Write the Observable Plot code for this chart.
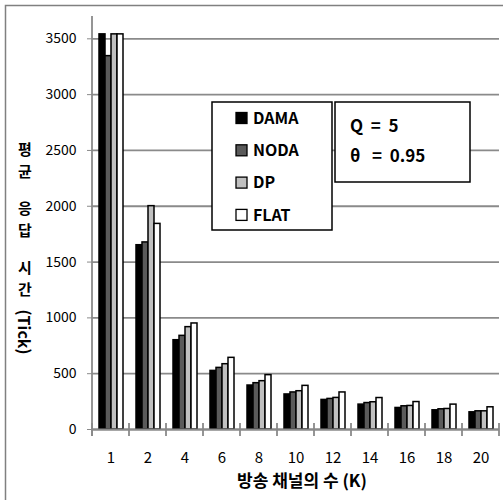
<!DOCTYPE html>
<html>
<head>
<meta charset="utf-8">
<script src="https://cdn.jsdelivr.net/npm/d3@7"></script>
<script src="https://cdn.jsdelivr.net/npm/@observablehq/plot@0.6"></script>
<style>
  html, body { margin: 0; padding: 0; background: #fff; }
  #chart svg { display: block; }
</style>
</head>
<body>
<div id="chart"></div>
<script>
// Number of broadcast channels K
const categories = ["1", "2", "4", "6", "8", "10", "12", "14", "16", "18", "20"];
const series = ["DAMA", "NODA", "DP", "FLAT"];
const seriesColors = ["#000000", "#5a5a5a", "#c0c0c0", "#ffffff"];

// Mean response time (ticks) per scheme
const dama = [3540, 1651, 800, 525, 394, 314, 265, 223, 193, 172, 154];
const noda = [3345, 1676, 839, 552, 415, 332, 274, 237, 208, 181, 163];
const dp   = [3540, 2001, 917, 585, 433, 343, 283, 244, 211, 184, 163];
const flat = [3540, 1842, 950, 642, 487, 391, 332, 282, 246, 223, 199];

const yTicks = [0, 500, 1000, 1500, 2000, 2500, 3000, 3500];
const yMax = 3700;

const params = ["Q  =  5", "θ   =  0.95"];
const xTitle = "방송 채널의 수 (K)";
const yTitleWords = ["평균", "응답", "시간"];
const yTitleUnit = "(Tick)";

const valuesBySeries = [dama, noda, dp, flat];
const rows = categories.flatMap((c, i) =>
  series.map((s, j) => ({cat: c, series: s, value: valuesBySeries[j][i]}))
);

const W = 503, H = 500;
const gridColor = "#8a8a8a";
const font = "'Noto Sans CJK KR', 'Noto Sans', sans-serif";

const plot = Plot.plot({
  width: W,
  height: H,
  marginLeft: 92,
  marginRight: 4,
  marginTop: 16,
  marginBottom: 71,
  style: {fontFamily: font, color: "black", background: "white"},
  fx: {domain: categories, padding: 0, label: null},
  x: {domain: series, paddingInner: 0, paddingOuter: 0.643, axis: null},
  y: {domain: [0, yMax], label: null},
  color: {domain: series, range: seriesColors},
  marks: [
    Plot.gridY(yTicks, {stroke: gridColor, strokeOpacity: 1, strokeWidth: 1.8}),
    Plot.barY(rows, {
      fx: "cat", x: "series", y: "value",
      fill: "series", stroke: "black", strokeWidth: 1.5
    }),
    Plot.ruleY([0], {stroke: gridColor, strokeWidth: 1.8}),
    Plot.axisY({ticks: yTicks, tickFormat: d3.format("d"), tickSize: 5, tickPadding: 11,
                stroke: gridColor, fill: "black", fontSize: 14, label: null}),
    Plot.axisFx({anchor: "bottom", tickSize: 0, tickPadding: 23, fontSize: 15,
                 fill: "black", label: null})
  ]
});

const svg = d3.select(plot);
const fx = plot.scale("fx");
const y = plot.scale("y");
const x0 = fx.apply(categories[0]);
const bw = fx.bandwidth;
const yBase = y.apply(0);
const yTop = y.apply(yMax);

// vertical axis line
svg.append("line")
  .attr("x1", x0).attr("x2", x0)
  .attr("y1", yTop).attr("y2", yBase + 7)
  .attr("stroke", gridColor).attr("stroke-width", 1.8);

// category boundary ticks crossing the baseline
const bounds = categories.map(c => fx.apply(c)).concat([fx.apply(categories[categories.length - 1]) + bw]);
svg.append("g").selectAll("line").data(bounds).join("line")
  .attr("x1", d => d).attr("x2", d => d)
  .attr("y1", yBase - 6).attr("y2", yBase + 7)
  .attr("stroke", gridColor).attr("stroke-width", 1.8);

// outer frame (left and top edges)
svg.append("path")
  .attr("d", `M5.5,${H} V5.5 H${W}`)
  .attr("fill", "none").attr("stroke", "#808080").attr("stroke-width", 1.5);

const bold = sel => sel.attr("font-family", font).attr("font-weight", "bold").attr("fill", "black");

// x-axis title
svg.append("text")
  .attr("x", 302).attr("y", 487)
  .attr("text-anchor", "middle").attr("font-size", 17)
  .call(bold)
  .text(xTitle);

// y-axis title: Hangul stacked upright, unit rotated
const titleX = 25;
const wordTops = [148, 207, 266];
const charStep = 22;
const glyphs = yTitleWords.flatMap((w, wi) =>
  Array.from(w).map((ch, ci) => ({ch, y: wordTops[wi] + ci * charStep}))
);
const yt = svg.append("g").attr("text-anchor", "middle");
yt.selectAll("text.glyph").data(glyphs).join("text")
  .attr("class", "glyph")
  .attr("x", titleX).attr("y", d => d.y)
  .attr("dominant-baseline", "central").attr("font-size", 15)
  .call(bold)
  .text(d => d.ch);
yt.append("text")
  .attr("transform", `translate(${titleX},332) rotate(90)`)
  .attr("dominant-baseline", "central").attr("font-size", 16)
  .call(bold)
  .text(yTitleUnit);

// legend box
const lg = svg.append("g").attr("text-anchor", "start");
lg.append("rect")
  .attr("x", 212).attr("y", 102).attr("width", 120).attr("height", 128)
  .attr("fill", "white").attr("stroke", "black").attr("stroke-width", 1.5);
const item = lg.selectAll("g.item").data(series).join("g")
  .attr("class", "item")
  .attr("transform", (d, i) => `translate(236, ${118 + i * 32.3})`);
item.append("rect")
  .attr("x", 0).attr("y", -5.5).attr("width", 11).attr("height", 11)
  .attr("fill", (d, i) => seriesColors[i]).attr("stroke", "black").attr("stroke-width", 1.3);
item.append("text")
  .attr("x", 17).attr("y", 0).attr("dy", "0.35em").attr("font-size", 16)
  .call(bold)
  .text(d => d);

// parameter box
const pb = svg.append("g").attr("text-anchor", "start");
pb.append("rect")
  .attr("x", 335).attr("y", 102).attr("width", 135).attr("height", 80)
  .attr("fill", "white").attr("stroke", "black").attr("stroke-width", 1.5);
pb.selectAll("text").data(params).join("text")
  .attr("x", 350).attr("y", (d, i) => 126 + i * 30).attr("dy", "0.35em")
  .attr("font-size", 17).style("white-space", "pre")
  .call(bold)
  .text(d => d);

document.getElementById("chart").appendChild(plot);
</script>
</body>
</html>
